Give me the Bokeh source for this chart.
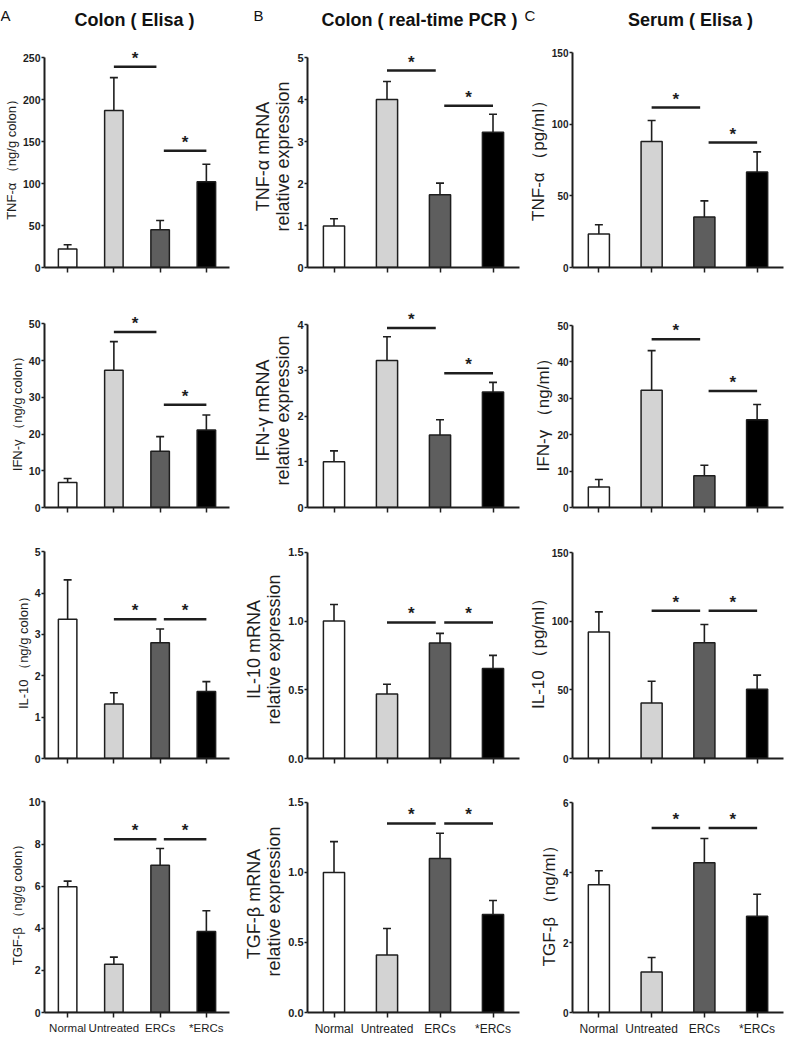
from bokeh.plotting import figure
from bokeh.layouts import gridplot, column
from bokeh.models import Range1d, FixedTicker, Whisker, TeeHead, ColumnDataSource, PrintfTickFormatter
from bokeh.core.properties import value
from bokeh.embed import file_html
from bokeh.resources import INLINE

# ---------------- data ----------------
categories = ["Normal", "Untreated", "ERCs", "*ERCs"]

# Column A: Colon (Elisa)
a_tnf_mean = [22, 187, 45, 102]
a_tnf_err = [5, 39, 11, 21]
a_tnf_sig = [239, 139]
a_ifn_mean = [6.8, 37.4, 15.3, 21.1]
a_ifn_err = [1.1, 7.8, 4.0, 4.1]
a_ifn_sig = [47.8, 28.0]
a_il10_mean = [3.37, 1.32, 2.80, 1.62]
a_il10_err = [0.95, 0.27, 0.33, 0.24]
a_il10_sig = [3.37, 3.37]
a_tgf_mean = [5.97, 2.29, 6.99, 3.85]
a_tgf_err = [0.27, 0.34, 0.80, 0.98]
a_tgf_sig = [8.23, 8.23]

# Column B: Colon (real-time PCR)
b_tnf_mean = [0.99, 4.00, 1.73, 3.22]
b_tnf_err = [0.17, 0.43, 0.28, 0.43]
b_tnf_sig = [4.69, 3.85]
b_ifn_mean = [1.00, 3.22, 1.59, 2.53]
b_ifn_err = [0.24, 0.52, 0.33, 0.21]
b_ifn_sig = [3.93, 2.94]
b_il10_mean = [1.00, 0.47, 0.84, 0.655]
b_il10_err = [0.12, 0.07, 0.07, 0.095]
b_il10_sig = [0.99, 0.99]
b_tgf_mean = [1.00, 0.41, 1.10, 0.70]
b_tgf_err = [0.22, 0.19, 0.18, 0.10]
b_tgf_sig = [1.35, 1.35]

# Column C: Serum (Elisa)
c_tnf_mean = [23.3, 87.9, 35.3, 66.7]
c_tnf_err = [6.5, 14.7, 11.2, 14.0]
c_tnf_sig = [111.6, 87.2]
c_ifn_mean = [5.6, 32.2, 8.7, 24.1]
c_ifn_err = [2.1, 10.9, 2.9, 4.2]
c_ifn_sig = [46.2, 32.0]
c_il10_mean = [92.2, 40.5, 84.2, 50.5]
c_il10_err = [14.6, 15.8, 13.4, 10.2]
c_il10_sig = [107.5, 107.5]
c_tgf_mean = [3.65, 1.16, 4.28, 2.75]
c_tgf_err = [0.40, 0.41, 0.69, 0.63]
c_tgf_sig = [5.27, 5.27]

# axis ticks
a_ticks = [[0, 50, 100, 150, 200, 250], [0, 10, 20, 30, 40, 50], [0, 1, 2, 3, 4, 5], [0, 2, 4, 6, 8, 10]]
b_ticks = [[0, 1, 2, 3, 4, 5], [0, 1, 2, 3, 4], [0, 0.5, 1.0, 1.5], [0, 0.5, 1.0, 1.5]]
c_ticks = [[0, 50, 100, 150], [0, 10, 20, 30, 40, 50], [0, 50, 100, 150], [0, 2, 4, 6]]

a_labels = ["TNF-α （ng/g colon）", "IFN-γ （ng/g colon）", "IL-10 （ng/g colon）", "TGF-β （ng/g colon）"]
b_labels = ["TNF-α mRNA\nrelative expression", "IFN-γ mRNA\nrelative expression",
            "IL-10 mRNA\nrelative expression", "TGF-β  mRNA\nrelative expression"]
c_labels = ["TNF-α （pg/ml）", "IFN-γ （ng/ml）", "IL-10 （pg/ml）", "TGF-β （ng/ml）"]

panel_letters = ["A", "B", "C"]
panel_titles = ["Colon ( Elisa )", "Colon ( real-time PCR )", "Serum ( Elisa )"]

# ---------------- style / layout ----------------
bar_colors = ["#ffffff", "#d3d3d3", "#5e5e5e", "#000000"]
SANS = "Liberation Sans"
INK = "#1e1e1e"

col_bounds = {"A": (8, 240), "B": (240, 530), "C": (530, 792)}
frame_x = {"A": (42, 237), "B": (315, 527), "C": (580, 791)}
HEADER_H = 45
row_bounds = [(45, 282), (282, 522), (522, 775), (775, 1039)]
tick_top_px = {"A": [57, 297, 537, 790], "B": [57, 313, 548, 801], "C": [52, 325, 552, 802]}
zero_px = [267, 507, 758, 1012]
PAD = 12
label_size = {"A": "13px", "B": "18px", "C": "17px"}
tick_size = {"A": "10.5px", "B": "11px", "C": "10px"}
xlabel_size = {"A": "11.5px", "B": "12px", "C": "12px"}

# header (panel letters and titles)
letter_x = [8, 261, 532]
letter_y = [6, 6, 6]
title_x = [142, 427, 698]
title_y = [19, 19, 19]


def make_header():
    h = figure(width=784, height=HEADER_H, x_range=Range1d(8, 792), y_range=Range1d(HEADER_H, 0),
               output_backend="svg", toolbar_location=None, min_border=0,
               x_axis_type=None, y_axis_type=None)
    h.xgrid.visible = False
    h.ygrid.visible = False
    h.outline_line_color = None
    h.text(x=letter_x, y=letter_y, text=panel_letters, text_align="left", text_baseline="top",
           text_font=value(SANS), text_font_size="15px", text_color="#111111")
    h.text(x=title_x, y=title_y, text=panel_titles, text_align="center", text_baseline="middle",
           text_font=value(SANS), text_font_style="bold", text_font_size="18px", text_color="#111111")
    return h


def make_panel(col, r, ylabel, ticks, means, errs, sig_y, fmt):
    cl, cr = col_bounds[col]
    fl, fr = frame_x[col]
    rt, rb = row_bounds[r]
    T = tick_top_px[col][r]
    Z = zero_px[r]
    pad = min(PAD, T - rt)
    top = ticks[-1]
    y_end = top * (Z - T + pad) / (Z - T)
    p = figure(width=cr - cl, height=rb - rt,
               x_range=Range1d(-0.5, 3.5), y_range=Range1d(0, y_end),
               output_backend="svg", toolbar_location=None,
               min_border_left=fl - cl, min_border_right=cr - fr,
               min_border_top=T - pad - rt, min_border_bottom=rb - Z)
    p.xgrid.visible = False
    p.ygrid.visible = False
    p.outline_line_color = None
    p.background_fill_color = "white"

    src = ColumnDataSource(dict(x=list(range(len(categories))), mean=means,
                                upper=[m + e for m, e in zip(means, errs)], color=bar_colors))
    p.vbar(x="x", top="mean", bottom=0, width=0.4, fill_color="color",
           line_color=INK, line_width=1.5, source=src)
    p.add_layout(Whisker(base="x", upper="upper", lower="mean", source=src, dimension="height",
                         line_color=INK, line_width=1.6, lower_head=None,
                         upper_head=TeeHead(size=8, line_color=INK, line_width=1.6)))

    # significance bars: Untreated -> ERCs, ERCs -> *ERCs
    x0s = [1.0, 2.08]
    x1s = [1.92, 3.0]
    p.segment(x0=x0s, y0=sig_y, x1=x1s, y1=sig_y, line_color=INK, line_width=2.5)
    p.text(x=[(a + b) / 2 for a, b in zip(x0s, x1s)], y=sig_y, text=["*", "*"],
           text_align="center", text_baseline="bottom", text_font=value(SANS),
           text_font_style="bold", text_font_size="17px", text_color=INK, y_offset=1)

    # axes
    for ax in (p.xaxis[0], p.yaxis[0]):
        ax.axis_line_color = INK
        ax.axis_line_width = 2
        ax.major_tick_line_color = INK
        ax.major_tick_line_width = 1.5
        ax.major_tick_in = 0
        ax.minor_tick_line_color = None
    xa = p.xaxis[0]
    if r == 3:
        xa.ticker = FixedTicker(ticks=list(range(len(categories))))
        xa.major_tick_out = 5
        xa.major_label_overrides = {i: c for i, c in enumerate(categories)}
        xa.major_label_text_font = SANS
        xa.major_label_text_font_size = xlabel_size[col]
        xa.major_label_text_color = INK
        xa.major_label_standoff = 4
    else:
        # tick marks only (no labels) on the upper rows
        xa.ticker = FixedTicker(ticks=[], minor_ticks=list(range(len(categories))))
        xa.minor_tick_line_color = INK
        xa.minor_tick_line_width = 1.5
        xa.minor_tick_out = 5
        xa.minor_tick_in = 0

    ya = p.yaxis[0]
    ya.ticker = FixedTicker(ticks=ticks)
    ya.formatter = PrintfTickFormatter(format=fmt)
    ya.bounds = (0, top)
    ya.major_tick_out = 3
    ya.major_label_standoff = 1
    ya.major_label_text_font = SANS
    ya.major_label_text_font_style = "bold"
    ya.major_label_text_font_size = tick_size[col]
    ya.major_label_text_color = INK
    ya.axis_label = ylabel
    ya.axis_label_text_font = SANS
    ya.axis_label_text_font_style = "normal"
    ya.axis_label_text_font_size = label_size[col]
    ya.axis_label_text_color = INK
    ya.axis_label_standoff = 1
    ya.axis_label_text_line_height = 1.0
    return p


a_means = [a_tnf_mean, a_ifn_mean, a_il10_mean, a_tgf_mean]
a_errs = [a_tnf_err, a_ifn_err, a_il10_err, a_tgf_err]
a_sigs = [a_tnf_sig, a_ifn_sig, a_il10_sig, a_tgf_sig]
b_means = [b_tnf_mean, b_ifn_mean, b_il10_mean, b_tgf_mean]
b_errs = [b_tnf_err, b_ifn_err, b_il10_err, b_tgf_err]
b_sigs = [b_tnf_sig, b_ifn_sig, b_il10_sig, b_tgf_sig]
c_means = [c_tnf_mean, c_ifn_mean, c_il10_mean, c_tgf_mean]
c_errs = [c_tnf_err, c_ifn_err, c_il10_err, c_tgf_err]
c_sigs = [c_tnf_sig, c_ifn_sig, c_il10_sig, c_tgf_sig]
b_fmt = ["%d", "%d", "%.1f", "%.1f"]

rows = []
for r in range(4):
    rows.append([
        make_panel("A", r, a_labels[r], a_ticks[r], a_means[r], a_errs[r], a_sigs[r], "%d"),
        make_panel("B", r, b_labels[r], b_ticks[r], b_means[r], b_errs[r], b_sigs[r], b_fmt[r]),
        make_panel("C", r, c_labels[r], c_ticks[r], c_means[r], c_errs[r], c_sigs[r], "%d"),
    ])

layout = column(make_header(), gridplot(rows, toolbar_location=None))
open("out.html", "w").write(file_html(layout, INLINE))
